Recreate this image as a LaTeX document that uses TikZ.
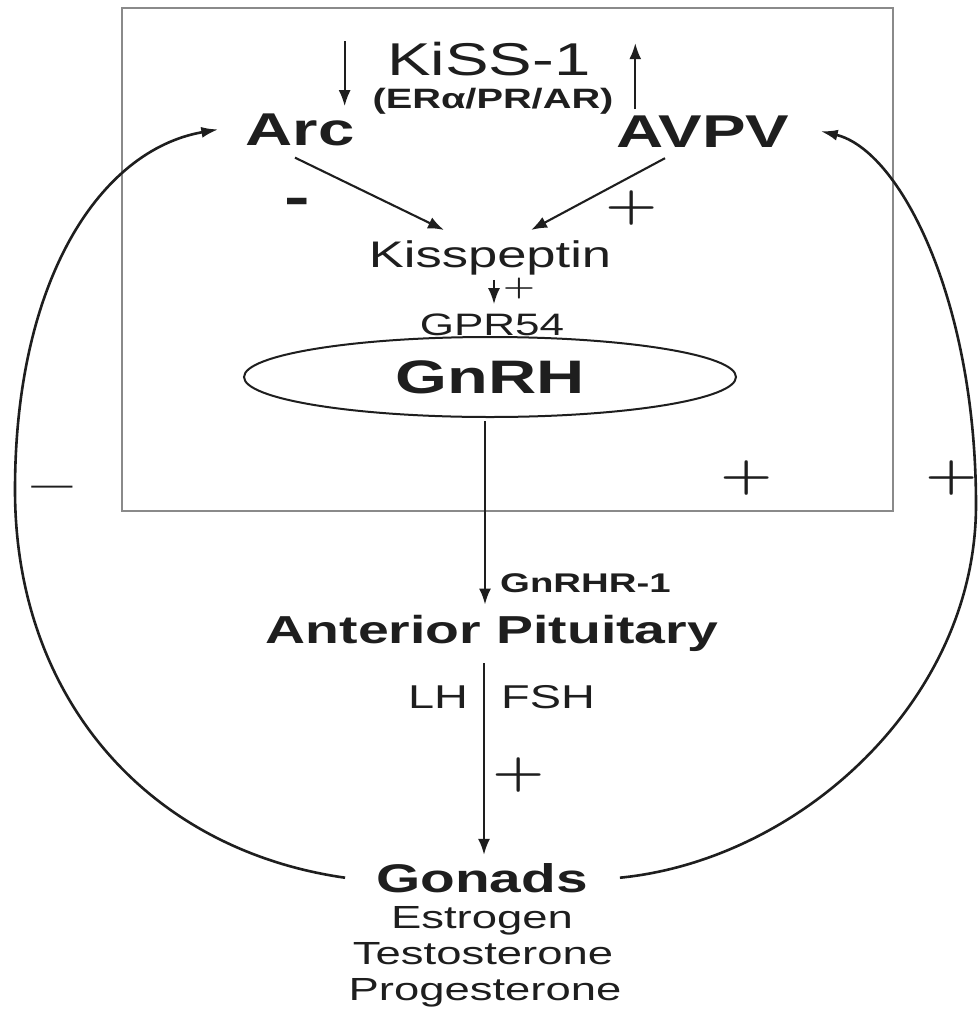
\documentclass[tikz,border=0pt]{standalone}
\usepackage{fontspec}
\setmainfont{Liberation Sans}[FakeStretch=1.42]
\newfontfamily\signfont{Latin Modern Roman}[FakeStretch=1.3]
\usetikzlibrary{arrows.meta,shapes.geometric}
\definecolor{ink}{HTML}{1E1E1E}
\definecolor{boxgray}{HTML}{8A8A8A}
\begin{document}
\begin{tikzpicture}[x=1pt,y=-1pt,
  txt/.style={inner sep=0pt,anchor=base,text=ink},
  arr/.style={draw=ink,line width=2.1pt,-{Latex[length=16pt,width=12pt]}},
  loop/.style={draw=ink,line width=2.6pt,-{Latex[length=17pt,width=11pt]}},
  sign/.style={inner sep=0pt,anchor=base,text=ink}]
\useasboundingbox (0,0) rectangle (979,1010);
\fill[white] (0,0) rectangle (979,1010);
\node[draw=boxgray,line width=1.8pt,inner sep=0pt,minimum width=771pt,minimum height=503pt] (hyp) at (507.5,259.5) {};
% texts
\node[txt,font=\fontsize{46}{46}\selectfont] (kiss) at (489,75) {KiSS-1};
\node[txt,font=\bfseries\fontsize{28}{28}\selectfont] (er) at (493,108) {(ERα/PR/AR)};
\node[txt,font=\bfseries\fontsize{46}{46}\selectfont] (arc) at (300,145) {Arc};
\node[txt,font=\bfseries\fontsize{46}{46}\selectfont] (avpv) at (703,147) {AVPV};
\node[txt,font=\fontsize{37}{37}\selectfont] (kp) at (490,267) {Kisspeptin};
\node[txt,font=\fontsize{31}{31}\selectfont] (gpr) at (492,335) {GPR54};
\node[draw=ink,line width=2pt,ellipse,inner sep=0pt,minimum width=492pt,minimum height=80pt,text=ink,font=\bfseries\fontsize{47}{47}\selectfont] (gnrh) at (490,377) {GnRH};
\node[txt,anchor=base west,font=\bfseries\fontsize{27}{27}\selectfont] (gnrhr) at (500,592) {GnRHR-1};
\node[txt,font=\bfseries\fontsize{39}{39}\selectfont] (ap) at (492,643) {Anterior Pituitary};
\node[txt,font=\fontsize{33}{33}\selectfont] (lh) at (438,708) {LH};
\node[txt,font=\fontsize{33}{33}\selectfont] (fsh) at (548,708) {FSH};
\node[txt,font=\bfseries\fontsize{40}{40}\selectfont] (gon) at (482,892) {Gonads};
\node[txt,font=\fontsize{32}{32}\selectfont] (est) at (482,928) {Estrogen};
\node[txt,font=\fontsize{32}{32}\selectfont] (tes) at (483,964) {Testosterone};
\node[txt,font=\fontsize{32}{32}\selectfont] (pro) at (485,1000) {Progesterone};
% signs
\node[sign,font=\bfseries\fontsize{54}{54}\selectfont] (m1) at (297,215) {-};
\node[sign,font=\signfont\bfseries\fontsize{46}{46}\selectfont] (p1) at (632,219) {+};
\node[sign,font=\signfont\bfseries\fontsize{28}{28}\selectfont] (p2) at (519,295) {+};
\node[sign,font=\signfont\bfseries\fontsize{46}{46}\selectfont] (p3) at (747,489) {+};
\node[sign,font=\signfont\bfseries\fontsize{46}{46}\selectfont] (p4) at (952,489) {+};
\node[sign,font=\fontsize{29}{29}\selectfont] (m2) at (52,494) {—};
\node[sign,font=\signfont\bfseries\fontsize{46}{46}\selectfont] (p5) at (519,786) {+};
% arrows
\draw[arr] ([shift={(-10pt,72pt)}]arc.north east) -- ([shift={(-10pt,7pt)}]arc.north east);
\draw[arr] ([shift={(19pt,6pt)}]avpv.north west) -- ([shift={(19pt,72pt)}]avpv.north west);
\draw[arr] ([shift={(-5pt,-12pt)}]arc.south) -- ([shift={(-46pt,10pt)}]kp.north);
\draw[arr] ([shift={(-38pt,-11pt)}]avpv.south) -- ([shift={(41pt,10pt)}]kp.north);
\draw[arr] ([shift={(4pt,-5pt)}]kp.south) -- ([shift={(2pt,9pt)}]gpr.north);
\draw[arr] ([shift={(-5pt,-3pt)}]gnrh.south) -- ([shift={(-7pt,10pt)}]ap.north);
\draw[arr] ([shift={(-8pt,-12pt)}]ap.south) -- ([shift={(2pt,8pt)}]gon.north);
% feedback loops
\draw[loop] ([xshift=-31pt]gon.west) .. controls (150,850) and (15,700) .. (15,490) .. controls (15,280) and (100,150) .. ([xshift=-27pt]arc.west);
\draw[loop] ([xshift=32pt]gon.east) .. controls (800,860) and (976,700) .. (976,505) .. controls (976,300) and (900,150) .. ([xshift=31pt]avpv.east);
\end{tikzpicture}
\end{document}
